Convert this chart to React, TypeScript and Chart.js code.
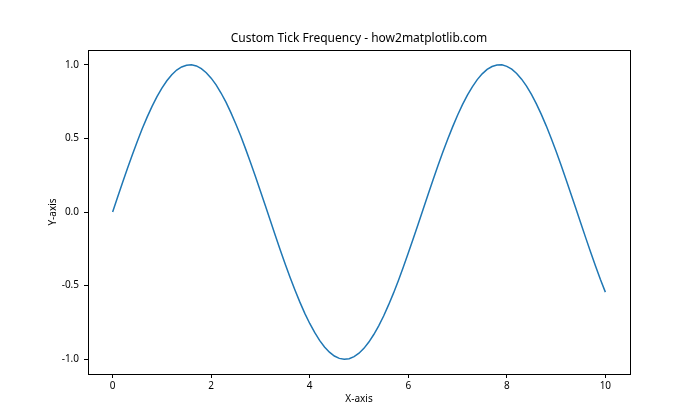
import React, { useEffect, useRef } from "react";
import { Chart, registerables } from "chart.js";

Chart.register(...registerables);

const xValues = [
  0.0, 0.1, 0.2, 0.3, 0.4, 0.5, 0.6, 0.7, 0.8, 0.9,
  1.0, 1.1, 1.2, 1.3, 1.4, 1.5, 1.6, 1.7, 1.8, 1.9,
  2.0, 2.1, 2.2, 2.3, 2.4, 2.5, 2.6, 2.7, 2.8, 2.9,
  3.0, 3.1, 3.2, 3.3, 3.4, 3.5, 3.6, 3.7, 3.8, 3.9,
  4.0, 4.1, 4.2, 4.3, 4.4, 4.5, 4.6, 4.7, 4.8, 4.9,
  5.0, 5.1, 5.2, 5.3, 5.4, 5.5, 5.6, 5.7, 5.8, 5.9,
  6.0, 6.1, 6.2, 6.3, 6.4, 6.5, 6.6, 6.7, 6.8, 6.9,
  7.0, 7.1, 7.2, 7.3, 7.4, 7.5, 7.6, 7.7, 7.8, 7.9,
  8.0, 8.1, 8.2, 8.3, 8.4, 8.5, 8.6, 8.7, 8.8, 8.9,
  9.0, 9.1, 9.2, 9.3, 9.4, 9.5, 9.6, 9.7, 9.8, 9.9,
  10.0,
];
const yValues = [
  0.0, 0.1, 0.199, 0.296, 0.389, 0.479, 0.565, 0.644, 0.717, 0.783,
  0.841, 0.891, 0.932, 0.964, 0.985, 0.997, 1.0, 0.992, 0.974, 0.946,
  0.909, 0.863, 0.808, 0.746, 0.675, 0.598, 0.516, 0.427, 0.335, 0.239,
  0.141, 0.042, -0.058, -0.158, -0.256, -0.351, -0.443, -0.53, -0.612, -0.688,
  -0.757, -0.818, -0.872, -0.916, -0.952, -0.978, -0.994, -1.0, -0.996, -0.982,
  -0.959, -0.926, -0.883, -0.832, -0.773, -0.706, -0.631, -0.551, -0.465, -0.374,
  -0.279, -0.182, -0.083, 0.017, 0.117, 0.215, 0.312, 0.405, 0.494, 0.578,
  0.657, 0.729, 0.794, 0.85, 0.899, 0.938, 0.968, 0.988, 0.998, 0.999,
  0.989, 0.97, 0.941, 0.902, 0.855, 0.798, 0.734, 0.663, 0.585, 0.501,
  0.412, 0.319, 0.223, 0.124, 0.025, -0.075, -0.174, -0.272, -0.366, -0.458,
  -0.544,
];
const xTicks = [0, 2, 4, 6, 8, 10];
const yTicks = [-1.0, -0.5, 0.0, 0.5, 1.0];

const TITLE = "Custom Tick Frequency - how2matplotlib.com";
const X_LABEL = "X-axis";
const Y_LABEL = "Y-axis";
const FONT = "'Noto Sans', 'DejaVu Sans', sans-serif";

export default function App() {
  const ref = useRef<HTMLCanvasElement | null>(null);

  useEffect(() => {
    const canvas = ref.current;
    if (!canvas) return;

    const framePlugin = {
      id: "frame",
      afterDraw(chart: any) {
        const { ctx, chartArea } = chart;
        const { left, right, top, bottom } = chartArea;
        ctx.save();
        ctx.strokeStyle = "#000";
        ctx.lineWidth = 1;
        ctx.strokeRect(Math.round(left) + 0.5, Math.round(top) + 0.5, Math.round(right - left), Math.round(bottom - top));
        ctx.fillStyle = "#000";
        ctx.textAlign = "center";
        ctx.textBaseline = "middle";
        const cx = (left + right) / 2;
        const cy = (top + bottom) / 2;
        ctx.font = `12px ${FONT}`;
        ctx.fillText(TITLE, cx, 39);
        ctx.font = `10px ${FONT}`;
        ctx.fillText(X_LABEL, cx, 399);
        ctx.translate(53, cy);
        ctx.rotate(-Math.PI / 2);
        ctx.fillText(Y_LABEL, 0, 0);
        ctx.restore();
      },
    };

    const chart = new Chart(canvas, {
      type: "line",
      data: {
        datasets: [
          {
            data: xValues.map((x, i) => ({ x, y: yValues[i] })),
            borderColor: "#1f77b4",
            borderWidth: 1.5,
            pointRadius: 0,
            tension: 0,
            fill: false,
          },
        ],
      },
      options: {
        animation: false,
        responsive: false,
        devicePixelRatio: 1,
        layout: { padding: { left: 0, top: 50, right: 70, bottom: 0 } },
        plugins: {
          legend: { display: false },
          title: { display: false },
          tooltip: { enabled: false },
        },
        scales: {
          x: {
            type: "linear",
            min: -0.5,
            max: 10.5,
            afterBuildTicks: (scale: any) => {
              scale.ticks = xTicks.map((v) => ({ value: v }));
            },
            afterFit: (scale: any) => {
              scale.height = 46;
            },
            grid: { drawOnChartArea: false, drawTicks: true, tickLength: 4, color: "#000" },
            border: { display: true, color: "#000" },
            ticks: {
              color: "#000",
              padding: 2,
              maxRotation: 0,
              autoSkip: false,
              font: { family: FONT, size: 10 },
              callback: (v: any) => String(v),
            },
          },
          y: {
            type: "linear",
            min: -1.1,
            max: 1.1,
            afterBuildTicks: (scale: any) => {
              scale.ticks = yTicks.map((v) => ({ value: v }));
            },
            afterFit: (scale: any) => {
              scale.width = 88;
            },
            grid: { drawOnChartArea: false, drawTicks: true, tickLength: 4, color: "#000" },
            border: { display: true, color: "#000" },
            ticks: {
              color: "#000",
              padding: 5,
              autoSkip: false,
              font: { family: FONT, size: 10 },
              callback: (v: any) => Number(v).toFixed(1),
            },
          },
        },
      },
      plugins: [framePlugin],
    } as any);

    return () => chart.destroy();
  }, []);

  return (
    <div style={{ position: "fixed", left: 0, top: 0, width: 700, height: 420, background: "#fff" }}>
      <canvas ref={ref} width={700} height={420} style={{ width: 700, height: 420, display: "block" }} />
    </div>
  );
}
